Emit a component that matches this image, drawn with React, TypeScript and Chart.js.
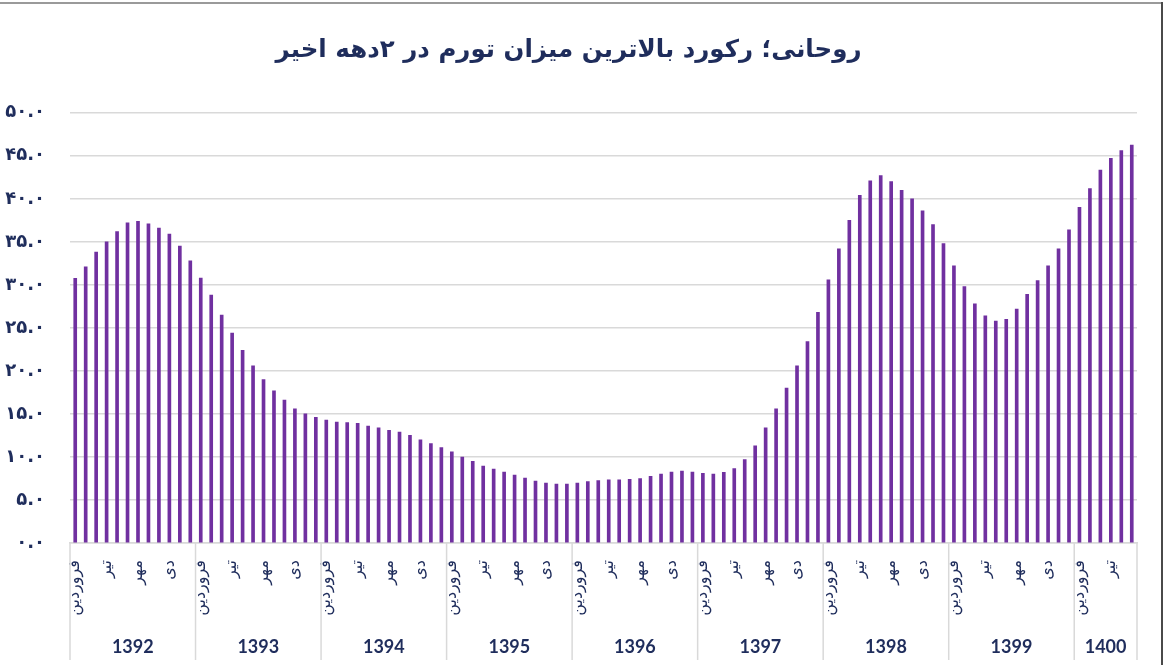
import React, { useEffect, useRef } from "react";
import { Chart, registerables } from "chart.js";

Chart.register(...registerables);

const TITLE = "روحانی؛ رکورد بالاترین میزان تورم در ۲دهه اخیر";
const monthLabels = ["فروردین", "", "", "تیر", "", "", "مهر", "", "", "دی", "", ""];
const years = ["1392", "1393", "1394", "1395", "1396", "1397", "1398", "1399", "1400"];

const v1392 = [30.75, 32.1, 33.8, 35.0, 36.2, 37.2, 37.4, 37.1, 36.6, 35.9, 34.5, 32.8];
const v1393 = [30.8, 28.8, 26.5, 24.4, 22.4, 20.6, 19.0, 17.7, 16.6, 15.6, 15.0, 14.6];
const v1394 = [14.3, 14.05, 14.0, 13.9, 13.6, 13.4, 13.1, 12.9, 12.5, 12.0, 11.55, 11.1];
const v1395 = [10.6, 10.0, 9.5, 8.95, 8.6, 8.25, 7.9, 7.55, 7.2, 6.95, 6.85, 6.85];
const v1396 = [6.95, 7.15, 7.25, 7.35, 7.35, 7.4, 7.5, 7.75, 8.0, 8.25, 8.35, 8.25];
const v1397 = [8.1, 8.0, 8.2, 8.65, 9.7, 11.3, 13.4, 15.6, 18.0, 20.6, 23.4, 26.8];
const v1398 = [30.6, 34.2, 37.5, 40.4, 42.1, 42.7, 42.0, 41.0, 40.0, 38.6, 37.0, 34.8];
const v1399 = [32.2, 29.8, 27.8, 26.4, 25.8, 26.0, 27.2, 28.9, 30.5, 32.2, 34.2, 36.4];
const v1400 = [39.0, 41.2, 43.35, 44.7, 45.6, 46.25];

const yearValues = [v1392, v1393, v1394, v1395, v1396, v1397, v1398, v1399, v1400];

const NAVY = "#1f2d5c";
const PURPLE = "#7030a0";
const GRID = "#d9d9d9";

const faDigits = "۰۱۲۳۴۵۶۷۸۹";
const toFa = (s: string) => s.replace(/\d/g, (d) => faDigits[+d]);

const yearGroupPlugin = {
  id: "yearGroups",
  afterDraw(chart: any) {
    const ctx = chart.ctx;
    const xs = chart.scales.x;
    const top = chart.chartArea.bottom;
    const bottom = 660;
    const step = xs.getPixelForValue(1) - xs.getPixelForValue(0);
    ctx.save();
    ctx.strokeStyle = GRID;
    ctx.lineWidth = 1.5;
    let idx = 0;
    const edges: number[] = [xs.getPixelForValue(0) - step / 2];
    yearValues.forEach((arr) => {
      idx += arr.length;
      edges.push(xs.getPixelForValue(idx - 1) + step / 2);
    });
    edges.forEach((x) => {
      ctx.beginPath();
      ctx.moveTo(x, top);
      ctx.lineTo(x, bottom);
      ctx.stroke();
    });
    ctx.fillStyle = NAVY;
    ctx.font = "bold 18px Lato";
    ctx.textAlign = "center";
    ctx.textBaseline = "middle";
    years.forEach((y, i) => {
      ctx.fillText(y, (edges[i] + edges[i + 1]) / 2, 647);
    });
    ctx.restore();
  },
};

export default function App() {
  const ref = useRef<HTMLCanvasElement | null>(null);
  useEffect(() => {
    const labels = yearValues.flatMap((arr) => arr.map((_, i) => monthLabels[i]));
    const values = yearValues.flat();
    const chart = new Chart(ref.current as HTMLCanvasElement, {
      type: "bar",
      data: {
        labels,
        datasets: [
          {
            data: values,
            backgroundColor: PURPLE,
            barThickness: 3,
          },
        ],
      },
      options: {
        animation: false,
        responsive: false,
        devicePixelRatio: 1,
        layout: { padding: { top: 0, right: 28, bottom: 0, left: 0 } },
        plugins: {
          legend: { display: false },
          tooltip: { enabled: false },
          title: {
            display: true,
            text: TITLE,
            color: NAVY,
            font: { family: "DejaVu Sans", size: 24.5, weight: "bold" },
            padding: { top: 35.5, bottom: 47.9 },
          },
        },
        scales: {
          x: {
            type: "category",
            grid: { display: false },
            border: { display: true, color: GRID, width: 1.5 },
            ticks: {
              autoSkip: false,
              minRotation: 90,
              maxRotation: 90,
              padding: 9,
              color: NAVY,
              font: { family: "DejaVu Sans", size: 16 },
            },
            afterFit: (s: any) => {
              s.height = 122;
            },
          },
          y: {
            min: 0,
            max: 50,
            grid: { color: GRID, lineWidth: 1.5, drawTicks: false },
            border: { display: false },
            ticks: {
              stepSize: 5,
              padding: 25,
              color: NAVY,
              font: { family: "DejaVu Sans", size: 18, weight: "bold" },
              callback: (v: any) => toFa(Number(v).toFixed(1)),
            },
            afterFit: (s: any) => {
              s.width = 70;
            },
          },
        },
      },
      plugins: [yearGroupPlugin],
    });
    return () => chart.destroy();
  }, []);

  return (
    <div style={{ position: "fixed", left: 0, top: 0, width: 1165, height: 665, background: "#fff" }}>
      <canvas ref={ref} width={1165} height={665} style={{ position: "absolute", left: 0, top: 0 }} />
      <div style={{ position: "absolute", left: 0, top: 2, width: 1163, height: 2, background: "#9a9a9a" }} />
      <div style={{ position: "absolute", left: 1161, top: 2, width: 2, height: 663, background: "#4a4a4a" }} />
    </div>
  );
}
